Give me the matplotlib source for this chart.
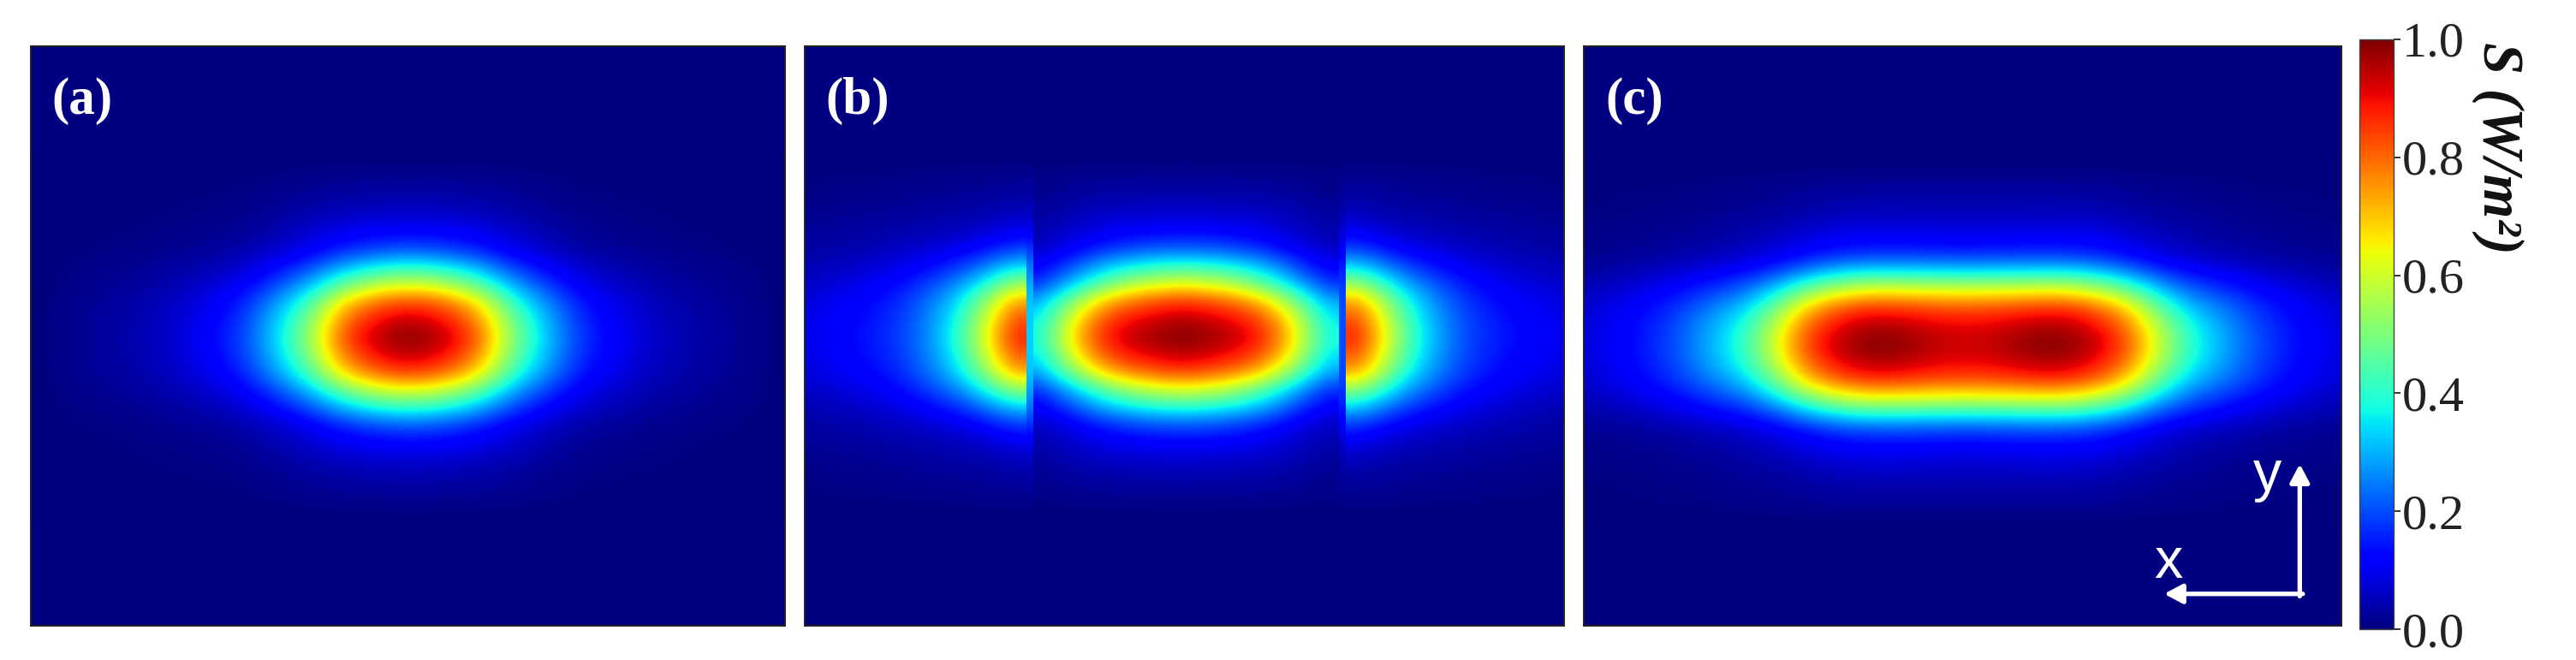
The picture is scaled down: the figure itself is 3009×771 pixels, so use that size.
import numpy as np
import matplotlib
matplotlib.use("Agg")
import matplotlib.pyplot as plt

# all grids hold one quarter of the pattern:
# rows go from the centre row outwards, columns from the centre column outwards
panel_a = [
    [1.00, .95, .83, .52, .33, .18, .12, .07, .045, .03, .015],
    [.95, .90, .78, .49, .31, .17, .11, .066, .043, .028, .014],
    [.85, .80, .68, .42, .27, .15, .095, .06, .038, .025, .012],
    [.62, .58, .47, .30, .19, .105, .07, .043, .028, .018, .01],
    [.40, .37, .30, .19, .12, .07, .045, .03, .019, .012, .006],
    [.21, .19, .155, .10, .065, .036, .024, .015, .01, .006, .003],
    [.12, .115, .10, .07, .043, .02, .013, .008, .005, .003, .002],
    [.07, .066, .057, .042, .025, .012, .008, .005, .003, .002, .001],
    [.04, .038, .033, .024, .014, .007, .004, .003, .002, .001, 0],
    [.02, .019, .016, .012, .007, .003, .002, .001, .001, 0, 0],
]
panel_b_center = [
    [1.00, .98, .95, .90, .78, .58, .38],
    [.95, .93, .90, .85, .73, .54, .35],
    [.85, .83, .79, .73, .60, .44, .29],
    [.62, .60, .56, .48, .38, .27, .17],
    [.40, .39, .36, .32, .25, .17, .11],
    [.21, .205, .19, .165, .13, .09, .06],
    [.12, .118, .11, .10, .08, .06, .04],
    [.07, .069, .067, .063, .055, .04, .027],
    [.04, .039, .038, .036, .031, .023, .015],
    [.02, .02, .019, .018, .016, .012, .008],
]
# side lobe, columns run from the seam to the panel edge
panel_b_lobe = [
    [.88, .62, .40, .27, .19, .15, .125, .105, .09],
    [.83, .59, .38, .26, .185, .145, .12, .10, .085],
    [.74, .52, .34, .24, .17, .13, .11, .09, .075],
    [.53, .38, .26, .19, .135, .105, .085, .07, .06],
    [.33, .24, .17, .125, .095, .075, .06, .05, .04],
    [.18, .13, .095, .075, .06, .048, .04, .033, .028],
    [.10, .07, .055, .045, .04, .032, .028, .025, .02],
    [.055, .04, .035, .03, .025, .02, .018, .015, .012],
    [.03, .025, .02, .018, .015, .012, .01, .008, .006],
    [.018, .014, .012, .01, .008, .006, .005, .004, .003],
]
seam_left = [.33, .33, .32, .29, .24, .17, .10, .06, .035, .02]
seam_right = [.20, .20, .20, .18, .15, .11, .07, .04, .025, .015]
panel_c = [
    [.93, .95, .99, 1.0, .95, .84, .60, .40, .30, .21, .15, .11, .08],
    [.91, .92, .95, .96, .91, .80, .57, .38, .29, .20, .145, .105, .075],
    [.83, .84, .86, .87, .82, .70, .48, .32, .25, .18, .13, .095, .07],
    [.63, .635, .645, .65, .60, .50, .34, .23, .18, .13, .10, .07, .052],
    [.365, .37, .375, .38, .35, .28, .19, .135, .105, .08, .057, .042, .03],
    [.175, .178, .18, .18, .165, .13, .09, .065, .05, .036, .027, .02, .015],
    [.10, .105, .11, .11, .105, .085, .06, .042, .03, .023, .016, .012, .009],
    [.065, .067, .07, .07, .065, .05, .036, .027, .019, .013, .01, .008, .006],
    [.04, .04, .04, .04, .037, .03, .02, .016, .011, .008, .006, .004, .003],
    [.025, .025, .025, .025, .023, .018, .013, .01, .007, .005, .004, .003, .002],
]
cbar_ticks = [0.0, 0.2, 0.4, 0.6, 0.8, 1.0]
panel_labels = ["(a)", "(b)", "(c)"]

W, H = 3009, 771
SERIF = "Liberation Serif"


def place(x0, y0, x1, y1):
    # pixel box of the reference to a figure rectangle
    return [x0 / W, 1 - y1 / H, (x1 - x0) / W, (y1 - y0) / H]


def mirror_rows(grid):
    grid = np.array(grid, dtype=float)
    full = np.vstack([grid[::-1], grid[1:]])
    return np.pad(full, ((1, 1), (0, 0)))


def mirror_cols(grid):
    return np.hstack([grid[:, ::-1], grid[:, 1:]])


def show(ax, grid, x0, x1, cy, dy):
    half = grid.shape[0] / 2 * dy
    return ax.imshow(grid, extent=[x0, x1, cy - half, cy + half], origin="lower", cmap="jet",
                     vmin=0, vmax=1, interpolation="bicubic", aspect="auto", zorder=2)


def setup(ax, label, x, y=0.405):
    ax.set_xlim(-0.5, 0.5)
    ax.set_ylim(-0.5, 0.5)
    ax.set_facecolor(plt.get_cmap("jet")(0.0))
    ax.set_xticks([])
    ax.set_yticks([])
    for s in ax.spines.values():
        s.set_linewidth(1.4)
        s.set_color("#222222")
    ax.text(x, y, label, color="white", fontsize=44, family=SERIF, fontweight="bold",
            ha="center", va="center", zorder=5)


fig = plt.figure(figsize=(W / 100, H / 100), dpi=100)
DY = 0.03045

# (a)
ax1 = fig.add_axes(place(36, 54, 917, 731))
g = mirror_cols(np.pad(mirror_rows(panel_a), ((0, 0), (0, 1))))
half_x = g.shape[1] / 2 * 0.0447
show(ax1, g, 0.002 - half_x, 0.002 + half_x, -0.003, DY)
setup(ax1, panel_labels[0], x=-0.432)

# (b) centre part plus two lobes, cut at the seams
ax2 = fig.add_axes(place(940, 54, 1827, 731))
SEAM_L, SEAM_R, STRIP = -0.208, 0.213, 0.009
show(ax2, mirror_cols(mirror_rows(panel_b_center)), SEAM_L, SEAM_R - STRIP, 0, DY)
lobe = mirror_rows(panel_b_lobe)
show(ax2, lobe[:, ::-1], SEAM_L - lobe.shape[1] * 0.0363, SEAM_L, 0, DY)
show(ax2, lobe, SEAM_R, SEAM_R + lobe.shape[1] * 0.0363, 0, DY)
strip_l = mirror_rows(np.column_stack([seam_left, seam_left]))
strip_r = mirror_rows(np.column_stack([seam_right, seam_right]))
show(ax2, strip_l, SEAM_L, SEAM_L + STRIP, 0, DY)
show(ax2, strip_r, SEAM_R - STRIP, SEAM_R, 0, DY)
setup(ax2, panel_labels[1], x=-0.43)

# (c)
ax3 = fig.add_axes(place(1850, 54, 2735, 731))
g = mirror_cols(mirror_rows(panel_c))
half_x = g.shape[1] / 2 * 0.0422
im = show(ax3, g, 0.0045 - half_x, 0.0045 + half_x, -0.013, DY)
setup(ax3, panel_labels[2], x=-0.433)

arrow = dict(arrowstyle="-|>,head_width=0.4,head_length=0.75", color="white", lw=3.8,
             shrinkA=0, shrinkB=0, mutation_scale=17)
ax3.annotate("", xy=(0.445, -0.221), xytext=(0.445, -0.449), arrowprops=arrow, zorder=6)
ax3.annotate("", xy=(0.266, -0.445), xytext=(0.449, -0.445), arrowprops=arrow, zorder=6)
ax3.text(0.402, -0.242, "y", color="white", fontsize=48, family="Liberation Sans",
         ha="center", va="center", zorder=6)
ax3.text(0.272, -0.392, "x", color="white", fontsize=48, family="Liberation Sans",
         ha="center", va="center", zorder=6)

# colorbar
cax = fig.add_axes(place(2756, 46, 2796, 735))
cb = fig.colorbar(im, cax=cax, ticks=cbar_ticks)
cb.ax.set_yticklabels(["%.1f" % t for t in cbar_ticks], family=SERIF, fontsize=42, color="#222222")
cb.ax.tick_params(length=6, width=1.4, color="#333333", pad=1)
cb.outline.set_linewidth(1.0)
cb.outline.set_edgecolor("#444444")
fig.text(2918 / W, 1 - 173 / H, "S (W/m²)", rotation=270, family=SERIF, fontweight="bold",
         style="italic", fontsize=48, ha="center", va="center", color="#111111")

fig.savefig("out.png", dpi=100)
